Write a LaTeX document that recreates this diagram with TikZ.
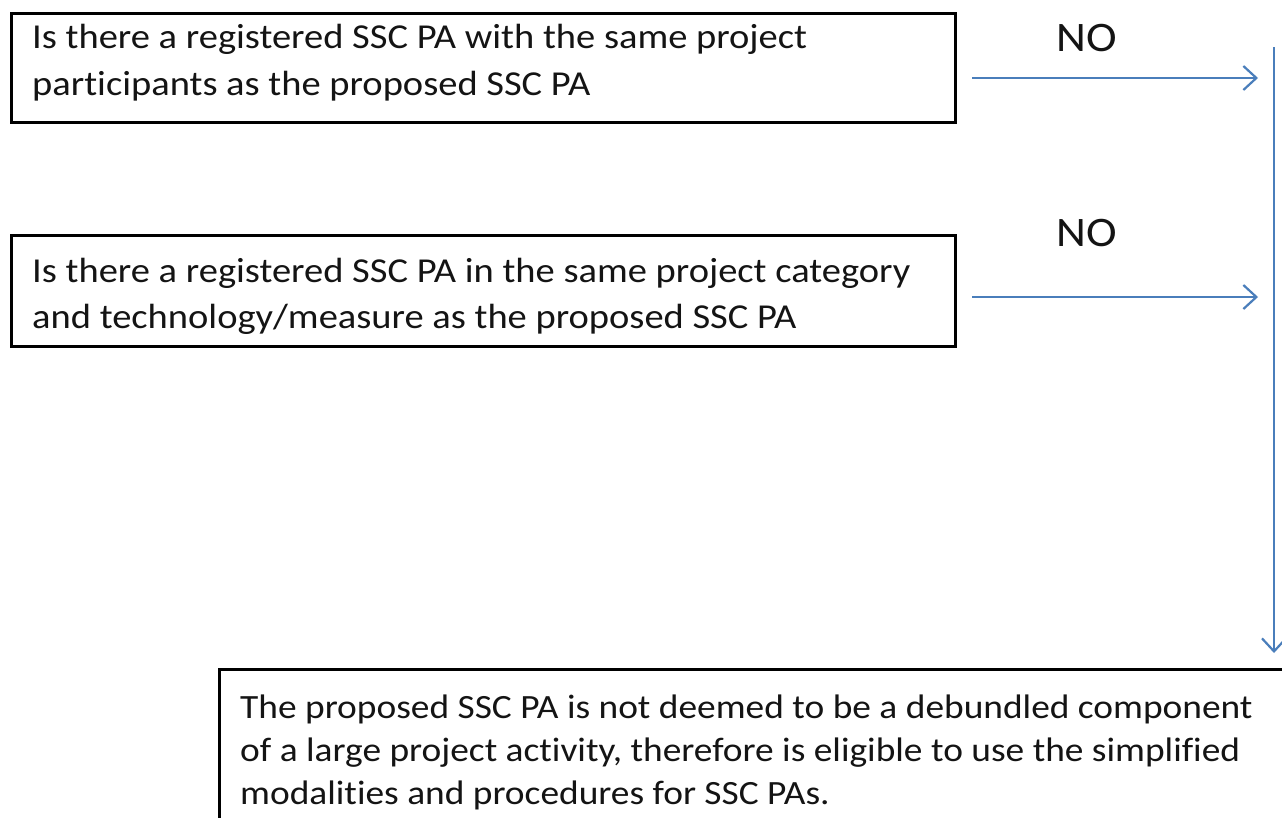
\documentclass[tikz,border=0pt]{standalone}
\usepackage{fontspec}
\setmainfont{Carlito}[FakeStretch=1.1,Ligatures=NoCommon]
\usetikzlibrary{arrows.meta}
\definecolor{arrowblue}{RGB}{74,126,187}
\definecolor{inkgray}{RGB}{20,20,20}
\begin{document}
\begin{tikzpicture}[x=1pt,y=-1pt,
  boxline/.style={draw=black,line width=3pt},
  txt/.style={font=\fontsize{35}{47}\selectfont,text=inkgray,anchor=base west,inner sep=0pt},
  txtb/.style={font=\fontsize{34}{42}\selectfont,text=inkgray,anchor=base west,inner sep=0pt},
  nolabel/.style={font=\fontsize{42}{44}\selectfont,text=inkgray,inner sep=0pt},
  flow/.style={draw=arrowblue,line width=2.2pt,-{Straight Barb[length=13pt,width=24pt,line width=2.2pt]}}]
\clip (0,0) rectangle (1282,817);
\fill[white] (0,0) rectangle (1282,817);
% box 1
\draw[boxline] (11,13) rectangle (955,122);
\node[txt] (t1a) at (32,48) {Is there a registered SSC PA with the same project};
\node[txt] (t1b) at (32,95) {participants as the proposed SSC PA};
% box 2
\draw[boxline] (11,235) rectangle (955,346);
\node[txt] (t2a) at (32,282) {Is there a registered SSC PA in the same project category};
\node[txt] (t2b) at (32,328) {and technology/measure as the proposed SSC PA};
% box 3
\draw[boxline] (219,669) rectangle (1300,840);
\node[txtb] (t3a) at (240,718) {The proposed SSC PA is not deemed to be a debundled component};
\node[txtb] (t3b) at (240,761) {of a large project activity, therefore is eligible to use the simplified};
\node[txtb] (t3c) at (240,804) {modalities and procedures for SSC PAs.};
% labels
\node[nolabel] (no1) at (1087,38) {NO};
\node[nolabel] (no2) at (1087,233) {NO};
% connectors
\coordinate (a1s) at (972,78);
\coordinate (a1e) at (1258,78);
\coordinate (a2s) at (972,297);
\coordinate (a2e) at (1258,297);
\coordinate (vs) at (1274,47);
\coordinate (ve) at (1274,653);
\draw[flow] (a1s) -- (a1e);
\draw[flow] (a2s) -- (a2e);
\draw[flow] (vs) -- (ve);
\end{tikzpicture}
\end{document}
